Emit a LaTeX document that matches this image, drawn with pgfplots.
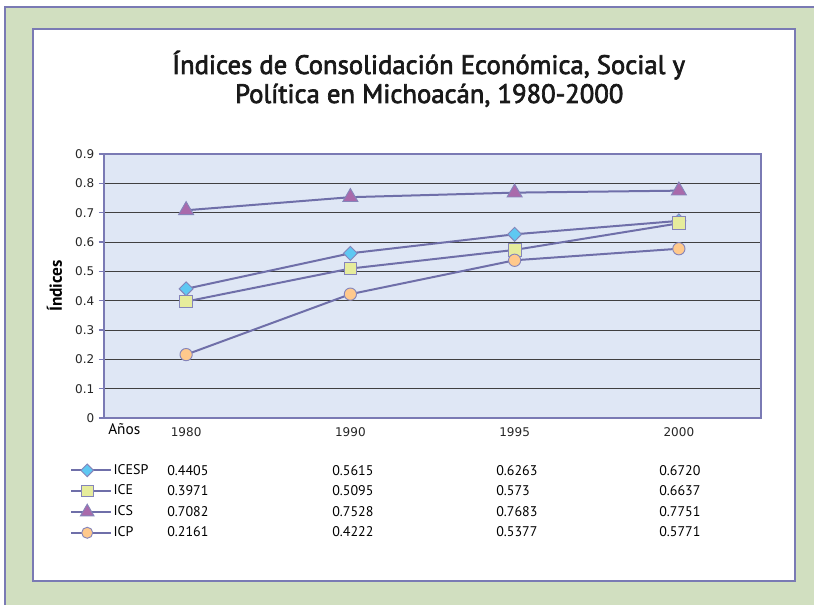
\documentclass[border=0pt]{standalone}
\usepackage{pgfplots}
\pgfplotsset{compat=1.18}
\usepackage{fontspec}
\setmainfont{PT Sans}
\newfontfamily\dejavu{DejaVu Sans}
\newfontfamily\titlefont[FakeBold=2.5]{PT Sans}

\definecolor{sage}{HTML}{D1DFC0}
\definecolor{frame}{HTML}{7A7AB4}
\definecolor{plotbg}{HTML}{DFE7F5}
\definecolor{serline}{HTML}{6F6FA9}
\definecolor{mkedge}{HTML}{8585BA}
\definecolor{cesp}{HTML}{5EC8F2}
\definecolor{ce}{HTML}{E6EC9C}
\definecolor{cs}{HTML}{A96AAB}
\definecolor{cp}{HTML}{FFC98C}

\begin{document}
\begin{tikzpicture}
% page = 814 x 605 px, 1 px = 0.75pt, origin at the plot area's lower left corner
\useasboundingbox (-78pt,-140.25pt) rectangle (532.5pt,313.5pt);
\fill[white] (-78pt,-140.25pt) rectangle (532.5pt,313.5pt);
\fill[sage] (-74.25pt,-142pt) rectangle (535pt,308.25pt);
\draw[frame,line width=1.5pt] (-74.25pt,-142pt) -- (-74.25pt,308.25pt) -- (535pt,308.25pt);
\draw[frame,fill=white,line width=2.2pt] (-53.25pt,-122.25pt) rectangle (518.25pt,291.75pt);

\node[font=\titlefont\fontsize{20}{24}\selectfont,anchor=base,text=black!90] at (243.5pt,258pt)
  {Índices de Consolidación Económica, Social y};
\node[font=\titlefont\fontsize{20}{24}\selectfont,anchor=base,text=black!90] at (244pt,236.25pt)
  {Política en Michoacán, 1980-2000};

\begin{axis}[
  at={(0pt,0pt)}, anchor=south west,
  scale only axis, width=492.75pt, height=198pt,
  xmin=-0.5, xmax=3.5, ymin=0, ymax=0.9,
  xtick={0,1,2,3}, xticklabels={1980,1990,1995,2000},
  ytick={0,0.1,0.2,0.3,0.4,0.5,0.6,0.7,0.8,0.9},
  ytick pos=left,
  /pgf/number format/assume math mode=true,
  ymajorgrids, grid style={black!75,line width=0.6pt},
  axis background/.style={fill=plotbg},
  axis line style={draw=frame,line width=0.9pt},
  tick align=outside, major tick length=3.75pt,
  x tick style={draw=none},
  y tick style={draw=frame,line width=0.8pt},
  yticklabel style={font=\dejavu\fontsize{9}{10}\selectfont,text=black!85},
  xticklabel style={font=\dejavu\fontsize{9}{10}\selectfont,text=black!85},
  ylabel={\bfseries Índices}, ylabel style={font=\fontsize{13}{14}\selectfont,yshift=3pt},
  clip=false,
  legend style={at={(axis description cs:-0.0518,-0.158)},anchor=north west,
    draw=none,fill=none,inner sep=0pt,row sep=0pt,
    font=\fontsize{10.5}{12}\selectfont,
    nodes={inner xsep=1pt,inner ysep=0pt,text height=10.6pt,text depth=5pt}},
  legend cell align=left,
  legend image code/.code={\draw[mark repeat=2,mark phase=2,#1,
      every mark/.append style={scale=0.9}]
    plot coordinates {(0pt,0pt) (12pt,0pt) (30pt,0pt)};},
]
\addplot[draw=serline,line width=1.5pt,mark=diamond*,mark size=5.25pt,
  mark options={draw=mkedge,line width=0.7pt,fill=cesp,xscale=1.33}]
  coordinates {(0,0.4405) (1,0.5615) (2,0.6263) (3,0.6720)};
\addlegendentry{ICESP}
\addplot[draw=serline,line width=1.5pt,mark=square*,mark size=4.8pt,
  mark options={draw=mkedge,line width=0.7pt,fill=ce}]
  coordinates {(0,0.3971) (1,0.5095) (2,0.573) (3,0.6637)};
\addlegendentry{ICE}
\addplot[draw=serline,line width=1.5pt,mark=triangle*,mark size=6.5pt,
  mark options={draw=mkedge,line width=0.7pt,fill=cs}]
  coordinates {(0,0.7082) (1,0.7528) (2,0.7683) (3,0.7751)};
\addlegendentry{ICS}
\addplot[draw=serline,line width=1.5pt,mark=*,mark size=4.6pt,
  mark options={draw=mkedge,line width=0.7pt,fill=cp}]
  coordinates {(0,0.2161) (1,0.4222) (2,0.5377) (3,0.5771)};
\addlegendentry{ICP}
\end{axis}

\begin{scope}[every node/.style={anchor=west,inner sep=0pt,text height=7.4pt,text depth=0pt,
    font=\fontsize{10.5}{12}\selectfont}]
\node[font=\fontsize{11.5}{12}\selectfont] at (3pt,-9pt) {Años};
\node at (47.25pt,-39.4pt) {0.4405}; \node at (171pt,-39.4pt) {0.5615};
\node at (294pt,-39.4pt) {0.6263};   \node at (416.25pt,-39.4pt) {0.6720};
\node at (47.25pt,-54.8pt) {0.3971}; \node at (171pt,-54.8pt) {0.5095};
\node at (294pt,-54.8pt) {0.573};    \node at (416.25pt,-54.8pt) {0.6637};
\node at (47.25pt,-70.4pt) {0.7082}; \node at (171pt,-70.4pt) {0.7528};
\node at (294pt,-70.4pt) {0.7683};   \node at (416.25pt,-70.4pt) {0.7751};
\node at (47.25pt,-85.5pt) {0.2161}; \node at (171pt,-85.5pt) {0.4222};
\node at (294pt,-85.5pt) {0.5377};   \node at (416.25pt,-85.5pt) {0.5771};
\end{scope}
\end{tikzpicture}
\end{document}
